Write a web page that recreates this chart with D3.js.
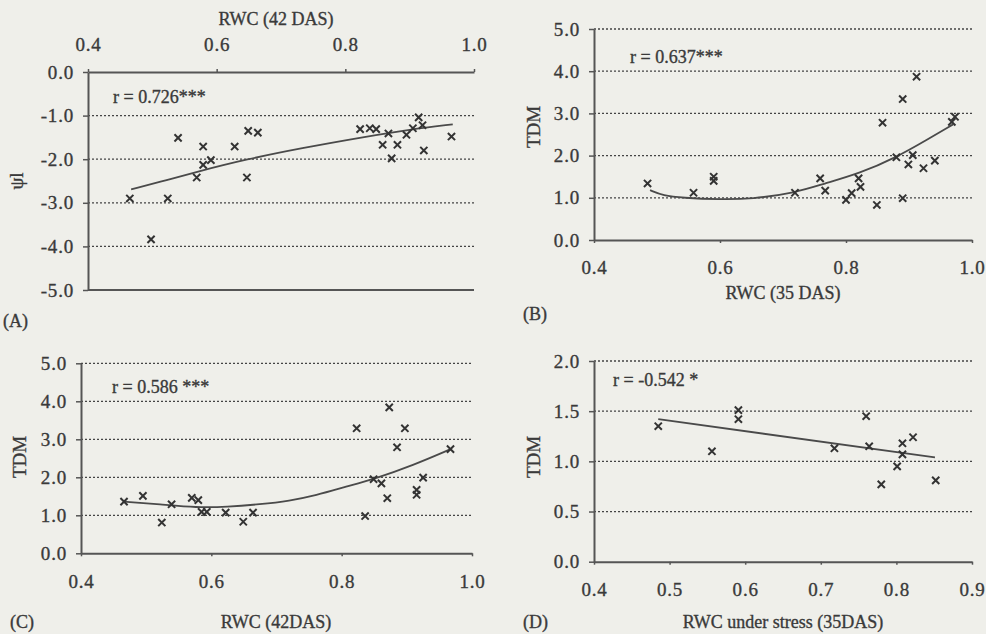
<!DOCTYPE html>
<html><head><meta charset="utf-8">
<script src="https://cdn.jsdelivr.net/npm/d3@7"></script>
<style>
body{margin:0;background:#efefea}
svg{display:block}
text{font-family:"Liberation Serif","Times New Roman",serif;fill:#3a3a3a;stroke:#3a3a3a;stroke-width:0.35px}
</style>
</head><body>
<svg id="c" width="986" height="634"></svg>
<script>
// ---------- Panel A: psi_l vs RWC (42 DAS)
const aRwc = [0.465,0.498,0.524,0.540,0.569,0.579,0.579,0.591,0.628,0.647,0.649,0.664,0.823,0.838,0.848,0.867,0.858,0.881,0.872,0.895,0.905,0.914,0.920,0.922,0.965];
const aPsi = [-2.90,-3.84,-2.90,-1.51,-2.42,-1.71,-2.13,-2.02,-1.71,-2.42,-1.35,-1.39,-1.31,-1.29,-1.31,-1.41,-1.67,-1.67,-1.98,-1.44,-1.29,-1.04,-1.22,-1.80,-1.48];
const aFitX = [0.467,0.522,0.569,0.647,0.730,0.833,0.900,0.967];
const aFitY = [-2.69,-2.48,-2.29,-2.00,-1.75,-1.48,-1.32,-1.20];
const aXTicks = [0.4,0.6,0.8,1.0];
const aYTicks = [0,-1,-2,-3,-4,-5];

// ---------- Panel B: TDM vs RWC (35 DAS)
const bRwc = [0.485,0.558,0.590,0.590,0.719,0.759,0.767,0.800,0.809,0.820,0.823,0.849,0.858,0.880,0.890,0.890,0.899,0.906,0.912,0.923,0.941,0.968,0.973];
const bTdm = [1.34,1.12,1.50,1.40,1.12,1.46,1.17,0.95,1.11,1.46,1.26,0.83,2.78,1.96,3.34,0.99,1.79,2.01,3.87,1.70,1.88,2.80,2.92];
const bFitX = [0.489,0.510,0.540,0.600,0.650,0.720,0.764,0.822,0.880,0.928,0.970];
const bFitY = [1.18,1.05,1.00,0.96,0.97,1.12,1.33,1.58,1.96,2.37,2.74];
const bXTicks = [0.4,0.6,0.8,1.0];
const bYTicks = [0,1,2,3,4,5];

// ---------- Panel C: TDM vs RWC (42DAS)
const cRwc = [0.466,0.495,0.524,0.539,0.570,0.580,0.585,0.593,0.622,0.649,0.664,0.823,0.836,0.849,0.861,0.870,0.873,0.885,0.897,0.925,0.915,0.915,0.967];
const cTdm = [1.36,1.51,0.81,1.29,1.46,1.40,1.09,1.09,1.07,0.83,1.07,3.29,0.98,1.95,1.84,1.45,3.84,2.79,3.29,1.99,1.67,1.54,2.74];
const cFitX = [0.466,0.521,0.578,0.624,0.675,0.720,0.760,0.808,0.849,0.910,0.967];
const cFitY = [1.36,1.29,1.20,1.22,1.29,1.38,1.52,1.76,1.95,2.32,2.74];
const cXTicks = [0.4,0.6,0.8,1.0];
const cYTicks = [0,1,2,3,4,5];

// ---------- Panel D: TDM vs RWC under stress (35DAS)
const dRwc = [0.485,0.556,0.591,0.591,0.718,0.760,0.764,0.780,0.801,0.808,0.808,0.822,0.852];
const dTdm = [1.35,1.10,1.51,1.42,1.13,1.45,1.15,0.77,0.95,1.18,1.07,1.24,0.81];
const dFitX = [0.485,0.851];
const dFitY = [1.42,1.04];
const dXTicks = [0.4,0.5,0.6,0.7,0.8,0.9];
const dYTicks = [0,0.5,1.0,1.5,2.0];

const svg = d3.select("#c");
svg.append("rect").attr("width",986).attr("height",634).attr("fill","#efefea");
const INK = "#3a3a3a", AX = "#555";
const fmt = d => d.toFixed(1);

const panels = [
  {xs:aRwc, ys:aPsi, fx:aFitX, fy:aFitY, xt:aXTicks, yt:aYTicks, xr:[88,474], yr:[290,72], xd:[0.4,1.0], yd:[-5,0],
   top:true, xTitle:"RWC (42 DAS)", xTitlePos:[276,25], yTitle:"ψl", yTitlePos:[16,181],
   r:"r = 0.726***", rPos:[113,103], tag:"(A)", tagPos:[3,327]},
  {xs:bRwc, ys:bTdm, fx:bFitX, fy:bFitY, xt:bXTicks, yt:bYTicks, xr:[594,972], yr:[240,29], xd:[0.4,1.0], yd:[0,5],
   top:false, xTitle:"RWC (35 DAS)", xTitlePos:[783,299], yTitle:"TDM", yTitlePos:[533,127],
   r:"r = 0.637***", rPos:[630,63], tag:"(B)", tagPos:[523,320]},
  {xs:cRwc, ys:cTdm, fx:cFitX, fy:cFitY, xt:cXTicks, yt:cYTicks, xr:[81,472], yr:[553.3,363.3], xd:[0.4,1.0], yd:[0,5],
   top:false, xTitle:"RWC (42DAS)", xTitlePos:[276,628], yTitle:"TDM", yTitlePos:[19,457],
   r:"r = 0.586 ***", rPos:[112,393], tag:"(C)", tagPos:[10,628]},
  {xs:dRwc, ys:dTdm, fx:dFitX, fy:dFitY, xt:dXTicks, yt:dYTicks, xr:[594,972], yr:[561.7,361], xd:[0.4,0.9], yd:[0,2],
   top:false, xTitle:"RWC under stress (35DAS)", xTitlePos:[783,628], yTitle:"TDM", yTitlePos:[533,457],
   r:"r = -0.542 *", rPos:[613,386], tag:"(D)", tagPos:[523,628]}
];

panels.forEach(p => {
  const x = d3.scaleLinear().domain(p.xd).range(p.xr);
  const y = d3.scaleLinear().domain(p.yd).range(p.yr);
  const g = svg.append("g");

  const axisVal = p.top ? p.yd[1] : p.yd[0];
  const bottomVal = p.top ? p.yd[0] : null;
  g.selectAll("line.grid").data(p.yt.filter(v => v !== axisVal)).enter().append("line")
    .attr("x1", p.xr[0]).attr("x2", p.xr[1])
    .attr("y1", d => y(d)).attr("y2", d => y(d))
    .attr("stroke", d => d === bottomVal ? AX : "#444")
    .attr("stroke-width", d => d === bottomVal ? 2 : 1.3)
    .attr("stroke-dasharray", d => d === bottomVal ? null : "2,2");

  const ya = g.append("g").attr("transform", `translate(${p.xr[0]},0)`)
    .call(d3.axisLeft(y).tickValues(p.yt).tickFormat(fmt).tickSize(5).tickSizeOuter(0).tickPadding(9));
  const xAxis = (p.top ? d3.axisTop(x) : d3.axisBottom(x))
    .tickValues(p.xt).tickFormat(fmt).tickSize(3).tickSizeOuter(0).tickPadding(18);
  const xa = g.append("g").attr("transform", `translate(0,${y(axisVal)})`).call(xAxis);
  [ya, xa].forEach(a => {
    a.attr("font-family", null).attr("font-size", null);
    a.select(".domain").attr("stroke", AX).attr("stroke-width", 2);
    a.selectAll(".tick line").attr("stroke", AX).attr("stroke-width", 1.5);
    a.selectAll(".tick text").attr("font-size", 19).attr("fill", INK).attr("letter-spacing", "0.8px");
  });

  const line = d3.line().x(d => x(d[0])).y(d => y(d[1])).curve(d3.curveBasis);
  g.append("path").datum(p.fx.map((v,i) => [v, p.fy[i]]))
    .attr("d", line).attr("fill","none").attr("stroke","#4a4a4a").attr("stroke-width",1.8);

  const s = 3.6;
  const pts = p.xs.map((v,i) => [v, p.ys[i]]);
  g.selectAll("path.pt").data(pts).enter().append("path")
    .attr("d", d => { const cx = x(d[0]), cy = y(d[1]);
      return `M${cx-s},${cy-s}L${cx+s},${cy+s}M${cx-s},${cy+s}L${cx+s},${cy-s}`; })
    .attr("stroke", "#333").attr("stroke-width", 2).attr("fill","none");

  g.append("text").attr("x", p.xTitlePos[0]).attr("y", p.xTitlePos[1])
    .attr("text-anchor","middle").attr("font-size",18).text(p.xTitle);
  g.append("text").attr("transform", `translate(${p.yTitlePos[0]},${p.yTitlePos[1]}) rotate(-90)`)
    .attr("text-anchor","middle").attr("dy","0.35em").attr("font-size",19).text(p.yTitle);
  g.append("text").attr("x", p.rPos[0]).attr("y", p.rPos[1]).attr("font-size",18).text(p.r);
  g.append("text").attr("x", p.tagPos[0]).attr("y", p.tagPos[1]).attr("font-size",18).text(p.tag);
});
</script>
</body></html>
